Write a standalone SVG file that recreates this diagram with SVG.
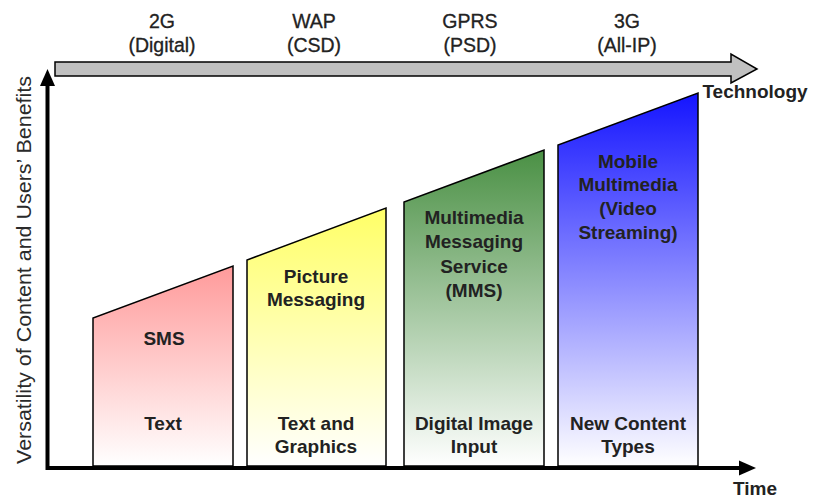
<svg xmlns="http://www.w3.org/2000/svg" width="813" height="498" viewBox="0 0 813 498">
  <style>
    .lbl { font-family: "Liberation Sans", Arial, sans-serif; font-size: 19px; font-weight: bold; fill: #222; text-anchor: middle; }
    .era { font-family: "Liberation Sans", Arial, sans-serif; font-size: 19.5px; fill: #222; stroke: #222; stroke-width: 0.3; text-anchor: middle; }
    .axis-title { font-family: "Liberation Sans", Arial, sans-serif; font-size: 20px; fill: #2a2a2a; }
    .bar { stroke: #000; stroke-width: 1.5; stroke-linejoin: miter; }
    .axis { stroke: #000; stroke-width: 4; fill: none; }
  </style>
  <defs>
    <linearGradient id="gRed" x1="0" y1="0" x2="0" y2="1">
      <stop offset="0" stop-color="#ff9a9a"/>
      <stop offset="1" stop-color="#ffffff"/>
    </linearGradient>
    <linearGradient id="gYellow" x1="0" y1="0" x2="0" y2="1">
      <stop offset="0" stop-color="#ffff66"/>
      <stop offset="1" stop-color="#ffffff"/>
    </linearGradient>
    <linearGradient id="gGreen" x1="0" y1="0" x2="0" y2="1">
      <stop offset="0" stop-color="#4a9044"/>
      <stop offset="1" stop-color="#ffffff"/>
    </linearGradient>
    <linearGradient id="gBlue" x1="0" y1="0" x2="0" y2="1">
      <stop offset="0" stop-color="#1414ff"/>
      <stop offset="1" stop-color="#ffffff"/>
    </linearGradient>
  </defs>

  <rect width="813" height="498" fill="#ffffff"/>

  <!-- technology generations along the top -->
  <g id="eras">
    <text class="era" x="162" y="28">2G</text>
    <text class="era" x="162" y="52">(Digital)</text>
    <text class="era" x="314" y="28">WAP</text>
    <text class="era" x="314" y="52">(CSD)</text>
    <text class="era" x="470" y="28">GPRS</text>
    <text class="era" x="470" y="52">(PSD)</text>
    <text class="era" x="627" y="28">3G</text>
    <text class="era" x="627" y="52">(All-IP)</text>
  </g>

  <!-- technology block arrow -->
  <g id="technology-arrow">
    <polygon points="55,62 731,62 731,54 757,69 731,83 731,76 55,76" fill="#c0c0c0" stroke="#000" stroke-width="1.5"/>
    <text class="lbl" x="755" y="98">Technology</text>
  </g>

  <!-- service bars -->
  <g id="sms">
    <polygon class="bar" points="93,466 93,318 233,266 233,466" fill="url(#gRed)"/>
    <text class="lbl" x="164" y="345">SMS</text>
    <text class="lbl" x="163" y="430">Text</text>
  </g>
  <g id="picture-messaging">
    <polygon class="bar" points="247,466 247,260 386,208 386,466" fill="url(#gYellow)"/>
    <text class="lbl" x="316" y="283">Picture</text>
    <text class="lbl" x="316" y="306">Messaging</text>
    <text class="lbl" x="316" y="430">Text and</text>
    <text class="lbl" x="316" y="453">Graphics</text>
  </g>
  <g id="mms">
    <polygon class="bar" points="404,466 404,202 544,150 544,466" fill="url(#gGreen)"/>
    <text class="lbl" x="474" y="224">Multimedia</text>
    <text class="lbl" x="474" y="248">Messaging</text>
    <text class="lbl" x="474" y="273">Service</text>
    <text class="lbl" x="474" y="297">(MMS)</text>
    <text class="lbl" x="474" y="430">Digital Image</text>
    <text class="lbl" x="474" y="453">Input</text>
  </g>
  <g id="mobile-multimedia">
    <polygon class="bar" points="558,466 558,145 698,93 698,466" fill="url(#gBlue)"/>
    <text class="lbl" x="628" y="168">Mobile</text>
    <text class="lbl" x="628" y="191">Multimedia</text>
    <text class="lbl" x="628" y="215">(Video</text>
    <text class="lbl" x="628" y="239">Streaming)</text>
    <text class="lbl" x="628" y="430">New Content</text>
    <text class="lbl" x="628" y="453">Types</text>
  </g>

  <!-- axes -->
  <g id="connectors">
    <path class="axis" d="M47.5,85 V468 H741"/>
    <polygon points="47.5,69 40,86 55,86" fill="#000"/>
    <polygon points="756,468 739,460.5 739,475.5" fill="#000"/>
  </g>
  <text class="lbl" x="755" y="495">Time</text>
  <text class="axis-title" transform="translate(31,270) rotate(-90)" text-anchor="middle" textLength="388" lengthAdjust="spacingAndGlyphs">Versatility of Content and Users’ Benefits</text>
</svg>
